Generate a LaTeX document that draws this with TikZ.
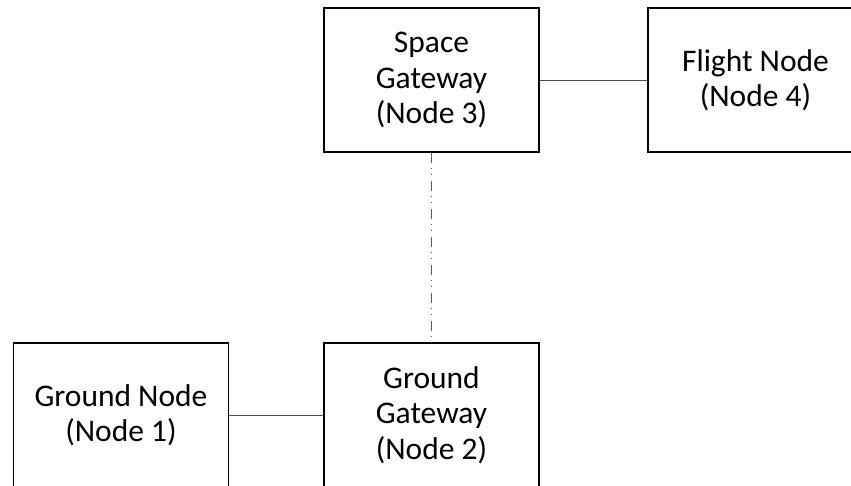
\documentclass[tikz,border=0pt]{standalone}
\usepackage{fontspec}
\setmainfont{Carlito}
\begin{document}
\begin{tikzpicture}[x=1pt,y=-1pt,
  box/.style={draw=black, line width=1.6pt, rectangle, minimum width=215pt, minimum height=144pt,
    inner sep=0pt, align=center, font=\fontsize{31.5}{35.5}\selectfont},
  link/.style={draw=black!70, line width=0.9pt},
  dashdot/.style={draw=black!65, line width=0.9pt, dash pattern=on 10pt off 5pt on 1pt off 5pt on 1pt off 6pt}]
\useasboundingbox (0,0) rectangle (851,485);
\clip (0,0) rectangle (851,485);
\fill[white] (0,0) rectangle (851,485);
\node[box] (sg) at (431.5,80) {Space\\Gateway\\(Node 3)};
\node[box] (fn) at (755.5,80) {Flight Node\\(Node 4)};
\node[box] (gn) at (121,415) {Ground Node\\(Node 1)};
\node[box] (gg) at (431.5,415) {Ground\\Gateway\\(Node 2)};
\draw[link] (sg.east) -- (fn.west);
\draw[link] (gn.east) -- (gg.west);
\draw[dashdot] (sg.south) -- (gg.north);
\end{tikzpicture}
\end{document}
